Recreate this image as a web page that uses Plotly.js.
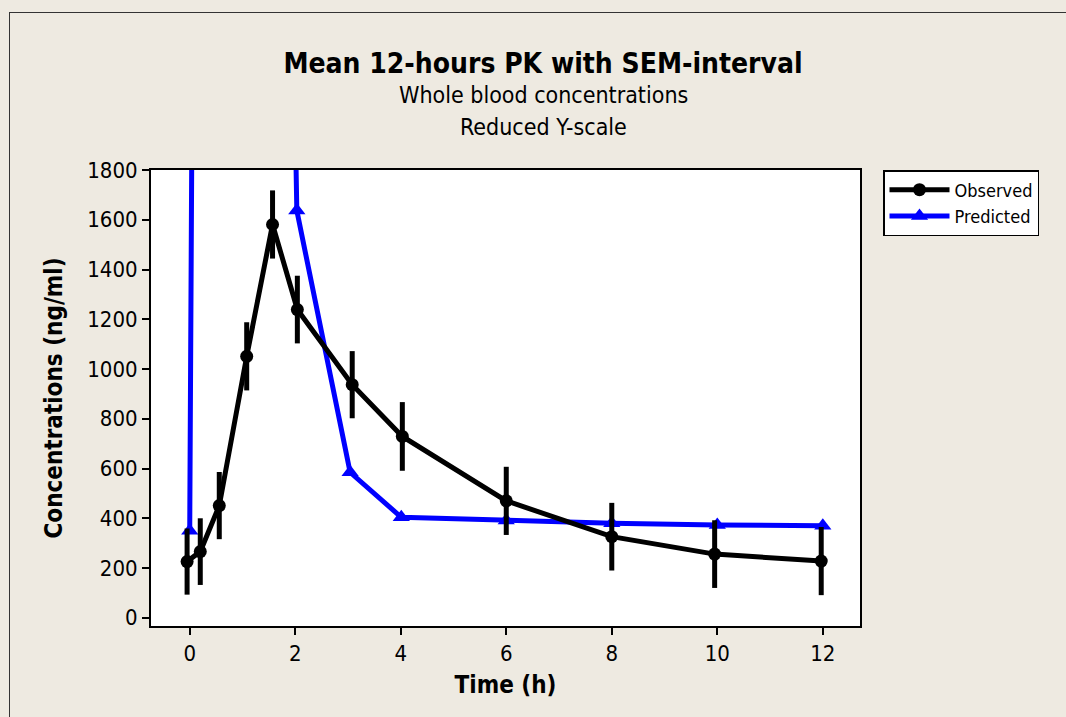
<!DOCTYPE html>
<html>
<head>
<meta charset="utf-8">
<script src="https://cdn.plot.ly/plotly-3.0.1.min.js"></script>
<style>
  html, body { margin:0; padding:0; background:#EEEAE1; overflow:hidden; }
  #frame { position:absolute; left:9px; top:12px; width:1200px; height:1000px;
           border-left:1.5px solid #333; border-top:1.5px solid #333; }
  #chart { position:absolute; left:0; top:0; width:1066px; height:717px; }
</style>
</head>
<body>
<div id="frame"></div>
<div id="chart"></div>
<script>
// Observed mean concentrations with SEM
const obsTime = [-0.05, 0.2, 0.56, 1.08, 1.57, 2.04, 3.08, 4.03, 6.0, 8.0, 9.95, 11.97];
const obsConc = [226, 266, 451, 1051, 1581, 1239, 937, 729, 470, 326, 256, 228];
const obsSem  = [133, 134, 135, 137, 137, 136, 135, 138, 137, 136, 136, 137];

// Predicted concentrations (peak goes far above the reduced y-scale)
const predTime = [0, 0.5, 2.03, 3.04, 4.01, 6.0, 8.0, 10.0, 12.0];
const predConc = [350, 20000, 1637, 585, 404, 391, 380, 373, 370];

const xTicks = [0, 2, 4, 6, 8, 10, 12];
const yTicks = [0, 200, 400, 600, 800, 1000, 1200, 1400, 1600, 1800];

const FONT = "Tahoma, 'DejaVu Sans Condensed', 'Liberation Sans', Arial, sans-serif";

const traces = [
  {
    name: 'Predicted', x: predTime, y: predConc, type: 'scatter', mode: 'lines+markers',
    line: { color: '#0000FF', width: 5 },
    marker: { symbol: 'triangle-up', size: 15, color: '#0000FF' }
  },
  {
    name: 'Observed', x: obsTime, y: obsConc, type: 'scatter', mode: 'lines+markers',
    line: { color: '#000000', width: 5 },
    marker: { symbol: 'circle', size: 13, color: '#000000' },
    error_y: { type: 'data', array: obsSem, visible: true, color: '#000000', thickness: 5, width: 0 }
  }
];

const layout = {
  width: 1066, height: 717,
  margin: { l: 151, r: 206, t: 170, b: 91, pad: 0 },
  paper_bgcolor: 'rgba(0,0,0,0)',
  plot_bgcolor: '#FFFFFF',
  font: { family: FONT, color: '#000000' },
  showlegend: true,
  title: {
    text: '<b>Mean 12-hours PK with SEM-interval</b>',
    font: { family: FONT, size: 28, color: '#000000' },
    xref: 'container', yref: 'container',
    x: 543 / 1066, xanchor: 'center',
    y: 1 - 63 / 717, yanchor: 'middle'
  },
  annotations: [
    { text: 'Whole blood concentrations', xref: 'paper', yref: 'paper',
      x: (543 - 151) / 709, y: (626 - 95) / 456, xanchor: 'center', yanchor: 'middle',
      showarrow: false, font: { family: FONT, size: 23, color: '#000000' } },
    { text: 'Reduced Y-scale', xref: 'paper', yref: 'paper',
      x: (543 - 151) / 709, y: (626 - 127) / 456, xanchor: 'center', yanchor: 'middle',
      showarrow: false, font: { family: FONT, size: 23, color: '#000000' } }
  ],
  xaxis: {
    range: [-0.734, 12.705],
    tickvals: xTicks, ticktext: xTicks.map(String),
    ticks: 'outside', ticklen: 7, tickwidth: 2, tickcolor: '#000000',
    showline: true, linecolor: '#000000', linewidth: 2, mirror: true,
    showgrid: false, zeroline: false,
    tickfont: { family: FONT, size: 22, color: '#000000' },
    title: { text: '<b>Time (h)</b>', font: { family: FONT, size: 24, color: '#000000' }, standoff: 11 }
  },
  yaxis: {
    range: [-33, 1800],
    tickvals: yTicks, ticktext: yTicks.map(String),
    ticks: 'outside', ticklen: 7, tickwidth: 2, tickcolor: '#000000',
    showline: true, linecolor: '#000000', linewidth: 2, mirror: true,
    showgrid: false, zeroline: false,
    tickfont: { family: FONT, size: 22, color: '#000000' },
    title: { text: '<b>Concentrations (ng/ml)</b>', font: { family: FONT, size: 24, color: '#000000' }, standoff: 18 }
  },
  legend: {
    x: (883 - 151) / 709, xanchor: 'left', y: 1, yanchor: 'top',
    bgcolor: '#FFFFFF', bordercolor: '#000000', borderwidth: 1.5,
    traceorder: 'reversed', itemwidth: 60, tracegroupgap: 0,
    font: { family: FONT, size: 18, color: '#000000' }
  }
};

Plotly.newPlot('chart', traces, layout, { displayModeBar: false, staticPlot: true });
</script>
</body>
</html>
